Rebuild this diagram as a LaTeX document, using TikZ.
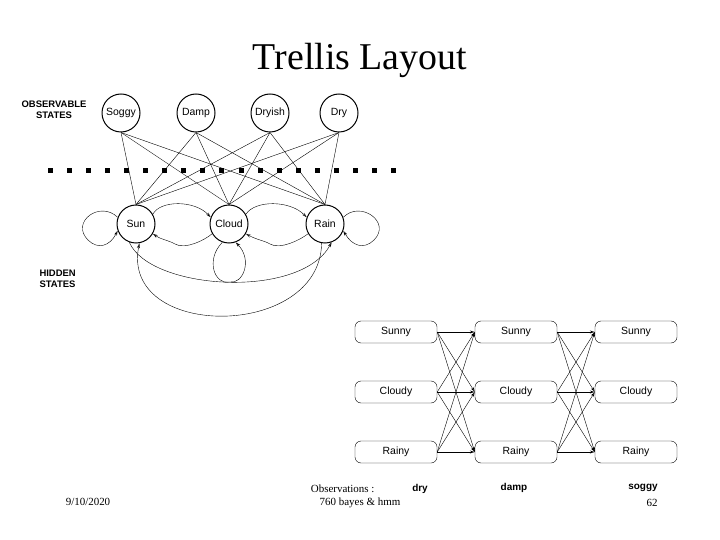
\documentclass[tikz,border=0pt]{standalone}
\usepackage{fontspec}
\setmainfont{Liberation Serif}
\setsansfont{Liberation Sans}
\usetikzlibrary{arrows.meta}
\begin{document}
\begin{tikzpicture}[x=1bp,y=-1bp,
  st/.style={circle,draw,line width=1pt,minimum size=38bp,inner sep=0pt,font=\sffamily\fontsize{10.5}{12}\selectfont},
  bx/.style={draw,rounded corners=6bp,minimum width=82bp,minimum height=22bp,inner sep=0pt,font=\sffamily\fontsize{10.5}{12}\selectfont},
  lk/.style={line width=0.4pt},
  ar/.style={line width=0.4pt,-{Stealth[length=5bp,width=3bp,open]}},
  lb/.style={font=\sffamily\bfseries\fontsize{9.5}{11}\selectfont,align=center}]
\useasboundingbox (0,0) rectangle (720,540);
\node[font=\fontsize{38}{42}\selectfont] (title) at (360,60) {Trellis Layout};
\node[lb] (obs) at (54,110) {OBSERVABLE\\STATES};
\node[lb,align=left,anchor=west] (hid) at (36,279) {HIDDEN\\STATES};
\node[st] (soggy) at (121,113) {Soggy};
\node[st] (damp) at (196,113) {Damp};
\node[st] (dryish) at (270,113) {Dryish};
\node[st] (dry) at (339,113) {Dry};
\node[st] (sun) at (136,224) {Sun};
\node[st] (cloud) at (229,224) {Cloud};
\node[st] (rain) at (325,224) {Rain};
\foreach \i in {0,...,18} \fill (50+19.1*\i-2.5,171-2.5) rectangle ++(5,5);
\foreach \o in {soggy,damp,dryish,dry}
  \foreach \h in {sun,cloud,rain}
    \draw[lk] (\o.south) -- (\h.north);
% self loops
\draw[ar] (sun.160) .. controls (100,200) and (70,222) .. (88,240) .. controls (98,250) and (110,246) .. (sun.200);
\draw[ar] (rain.20) .. controls (360,200) and (392,222) .. (374,240) .. controls (364,250) and (352,246) .. (rain.340);
\draw[ar] (cloud.250) .. controls (205,260) and (215,285) .. (229,282) .. controls (243,285) and (253,260) .. (cloud.290);
% neighbour transitions
\draw[ar] (sun.30) .. controls (160,200) and (195,200) .. (cloud.160);
\draw[ar] (cloud.30) .. controls (255,200) and (290,200) .. (rain.160);
\draw[ar] (cloud.210) .. controls (205,240) and (185,250) .. (175,244) .. controls (168,240) and (162,240) .. (sun.330);
\draw[ar] (rain.210) .. controls (300,240) and (280,250) .. (270,244) .. controls (263,240) and (257,240) .. (cloud.330);
% long arcs
\draw[ar] (sun.250) .. controls (150,290) and (300,300) .. (rain.290);
\draw[ar] (rain.260) .. controls (320,340) and (120,340) .. (sun.280);
% trellis
\foreach \c/\x in {a/396,b/516,c/636}{
  \node[bx] (\c1) at (\x,332) {Sunny};
  \node[bx] (\c2) at (\x,392) {Cloudy};
  \node[bx] (\c3) at (\x,452) {Rainy};
}
\foreach \p/\q in {a/b,b/c}
  \foreach \i in {1,2,3}
    \foreach \j in {1,2,3}
      \draw[ar] (\p\i.east) -- (\q\j.west);
\node[anchor=east,font=\fontsize{11}{13}\selectfont] (ob) at (378,489) {Observations :};
\node[font=\sffamily\bfseries\fontsize{10}{12}\selectfont] (o1) at (420,489) {dry};
\node[font=\sffamily\bfseries\fontsize{10}{12}\selectfont] (o2) at (514,488) {damp};
\node[font=\sffamily\bfseries\fontsize{10}{12}\selectfont] (o3) at (643,488) {soggy};
\node[font=\fontsize{11}{13}\selectfont] (date) at (88,502) {9/10/2020};
\node[font=\fontsize{11}{13}\selectfont] (foot) at (360,503) {760 bayes \& hmm};
\node[font=\fontsize{11}{13}\selectfont] (pg) at (652,503) {62};
\end{tikzpicture}
\end{document}
